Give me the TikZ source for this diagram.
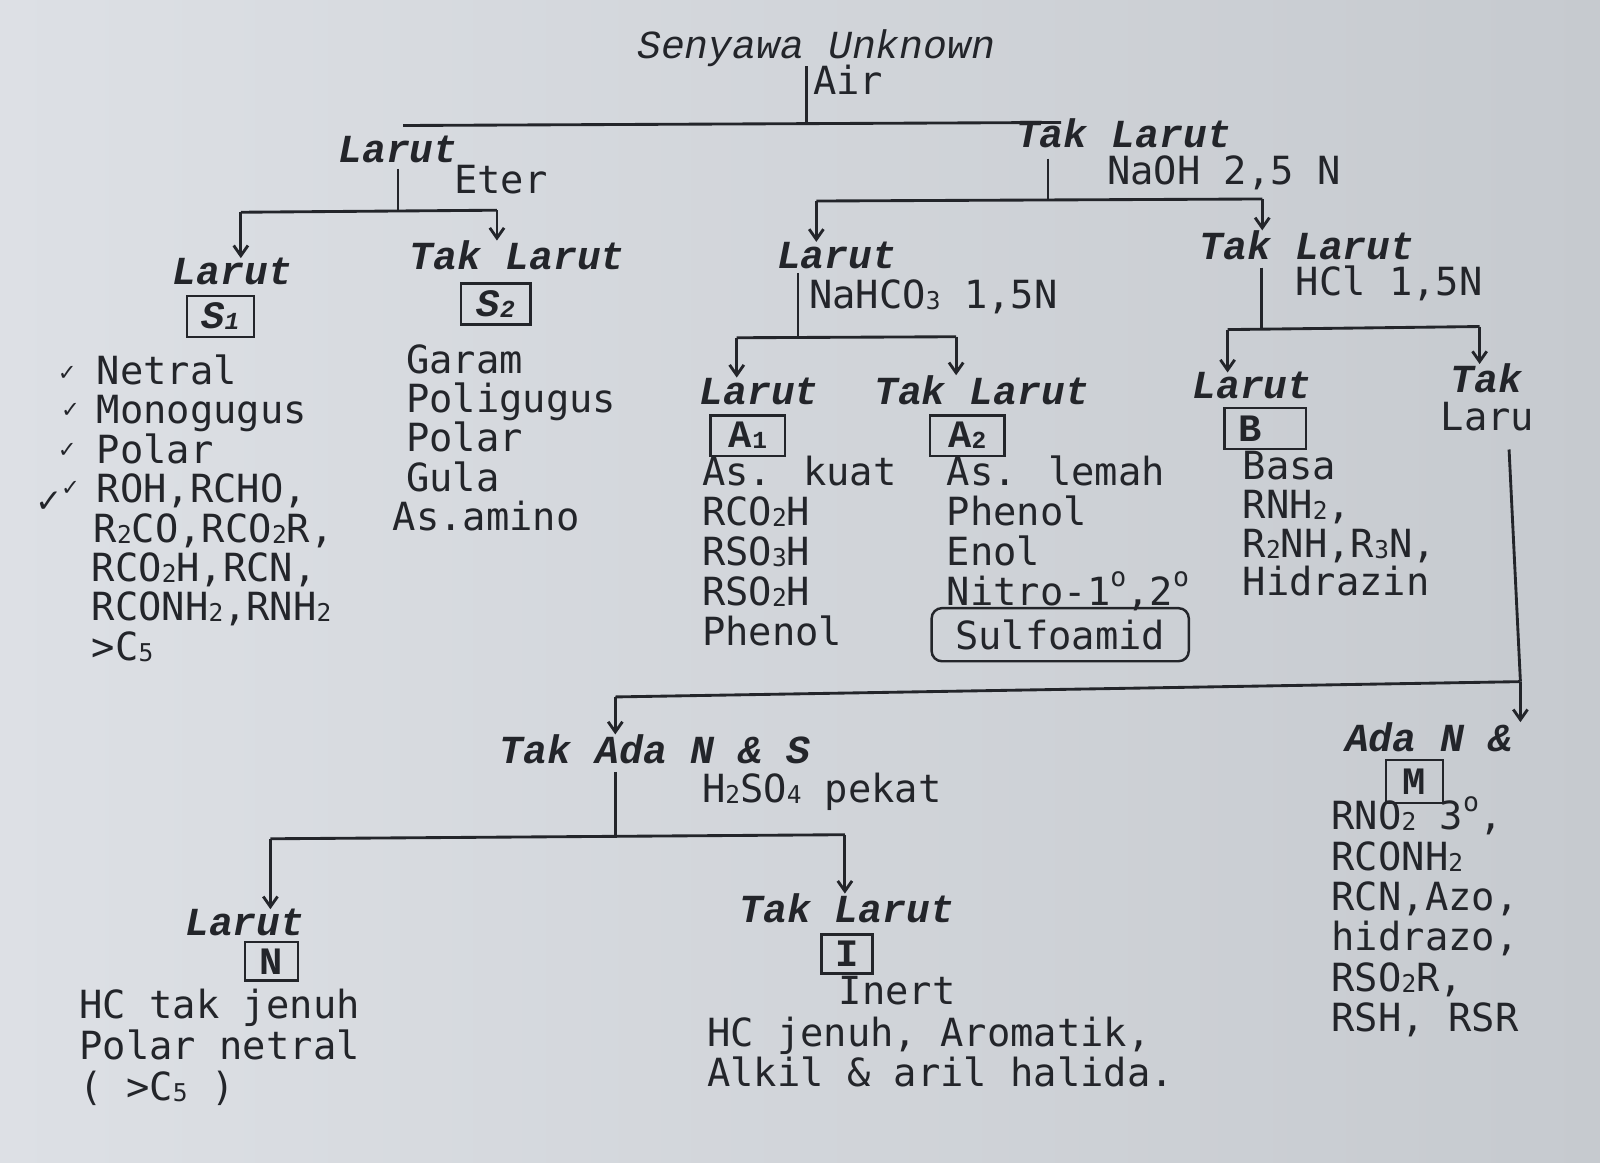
\documentclass[tikz,border=0pt]{standalone}
\usepackage{fontspec}
\usetikzlibrary{arrows.meta,calc}
\newfontfamily\headf{Liberation Mono}
\newfontfamily\bodyf{DejaVu Sans Mono}
\newfontfamily\symf{DejaVu Sans}
\newcommand\ssub[1]{\raisebox{-0.5pt}{\fontsize{12}{12}\selectfont #1}}
\newcommand\dgr{\raisebox{9pt}{\fontsize{13}{13}\selectfont o}}
\definecolor{ink}{RGB}{35,37,42}
\definecolor{paperL}{RGB}{221,224,229}
\definecolor{paperR}{RGB}{198,202,207}
\begin{document}
\begin{tikzpicture}[x=0.5pt,y=-0.5pt,
  every node/.style={inner sep=0pt, outer sep=0pt, text=ink},
  hd/.style={font=\headf\bfseries\itshape\fontsize{19.5}{19.5}\selectfont},
  bd/.style={font=\bodyf\fontsize{19}{19.3}\selectfont, align=left},
  bx/.style={draw=ink, line width=1.2pt, minimum width=#1, minimum height=20pt, font=\headf\bfseries\fontsize{19}{19}\selectfont},
  ln/.style={draw=ink, line width=1.4pt},
  ar/.style={ln, -{Straight Barb[length=5pt,width=7pt]}},
  ck/.style={font=\symf\fontsize{11}{11}\selectfont}
]
\useasboundingbox (0,0) rectangle (1568,1139);
\shade[left color=paperL, right color=paperR] (0,0) rectangle (1568,1139);

% ---------- text nodes ----------
\node[hd, font=\headf\itshape\fontsize{19.5}{19.5}\selectfont, anchor=base] (title) at (800,57) {Senyawa Unknown};
\node[bd, anchor=base west] (air) at (797,93) {Air};
\node[hd, anchor=base] (larut1) at (390,159) {Larut};
\node[bd, anchor=base west] (eter) at (445,190) {Eter};
\node[hd, anchor=base] (tak1) at (1101,145) {Tak Larut};
\node[bd, anchor=base west] (naoh) at (1085,181) {NaOH 2,5 N};

\node[hd, anchor=base] (larS1) at (228,279) {Larut};
\node[bx=33pt, font=\headf\bfseries\itshape\fontsize{19}{19}\selectfont] (s1) at (216,310) {S\ssub{1}};
\node[hd, anchor=base] (takS2) at (507,264) {Tak Larut};
\node[bx=34pt, font=\headf\bfseries\itshape\fontsize{19}{19}\selectfont] (s2) at (486,298) {S\ssub{2}};

% multi-line lists: anchor = baseline of the LAST line
\node[bd, anchor=base west] (listS1) at (95,647) {Netral\\Monogugus\\Polar\\ROH,RCHO,\\\hspace*{-1.5pt}R\ssub{2}CO,RCO\ssub{2}R,\\\hspace*{-2.5pt}RCO\ssub{2}H,RCN,\\\hspace*{-2.5pt}RCONH\ssub{2},RNH\ssub{2}\\\hspace*{-2.5pt}>C\ssub{5}};
\node[ck] (ck1) at (66,366) {✓};
\node[ck] (ck2) at (69,402) {✓};
\node[ck] (ck3) at (66,441) {✓};
\node[ck] (ck4) at (69,479) {✓};
\node[ck, font=\symf\fontsize{16}{16}\selectfont] (ck5) at (48,492) {✓};

\node[bd, anchor=base west] (listS2) at (398,520) {Garam\\Poligugus\\Polar\\Gula\\\hspace*{-6.5pt}As.amino};

\node[hd, anchor=base] (larA) at (820,263) {Larut};
\node[bd, anchor=base west] (nahco) at (793,302) {NaHCO\ssub{3} 1,5N};
\node[hd, anchor=base] (larA1) at (744,396) {Larut};
\node[hd, anchor=base] (takA2) at (962,396) {Tak Larut};
\node[bx=36.5pt] (a1) at (733,427) {A\ssub{1}};
\node[bx=36.5pt] (a2) at (948,427) {A\ssub{2}};
\node[bd, anchor=base west, font=\bodyf\fontsize{19}{19.6}\selectfont] (listA1) at (688,633) {As. kuat\\RCO\ssub{2}H\\RSO\ssub{3}H\\RSO\ssub{2}H\\Phenol};
\node[bd, anchor=base west, font=\bodyf\fontsize{19}{19.5}\selectfont] (listA2) at (928,593) {As. lemah\\Phenol\\Enol\\Nitro-1\dgr,2\dgr};
\node[bd, draw=ink, line width=1.2pt, rounded corners=5pt, minimum width=126pt, minimum height=26pt] (sulfo) at (1039,622) {Sulfoamid};

\node[hd, anchor=base] (takB) at (1281,254) {Tak Larut};
\node[bd, anchor=base west] (hcl) at (1270,290) {HCl 1,5N};
\node[hd, anchor=base] (larB) at (1227,391) {Larut};
\node[bx=40pt, text width=40pt, align=left] (b) at (1240,420) {\hspace*{7pt}B};
\node[bd, anchor=base west, font=\bodyf\fontsize{19}{19}\selectfont] (listB) at (1218,584) {Basa\\RNH\ssub{2},\\R\ssub{2}NH,R\ssub{3}N,\\Hidrazin};
\node[hd, anchor=base] (takR) at (1457,385) {Tak};
\node[bd, anchor=base west] (laru) at (1412,422) {Laru};

\node[hd, anchor=base] (takAda) at (642,748) {Tak Ada N \& S};
\node[bd, anchor=base west] (h2so4) at (688,786) {H\ssub{2}SO\ssub{4} pekat};
\node[hd, anchor=base] (adaN) at (1400,736) {Ada N \&};
\node[bx=28pt, minimum height=21pt] (m) at (1386,766) {M};
\node[bd, anchor=base west, font=\bodyf\fontsize{19}{19.8}\selectfont] (listM) at (1305,1011) {RNO\ssub{2} 3\dgr,\\RCONH\ssub{2}\\RCN,Azo,\\hidrazo,\\RSO\ssub{2}R,\\RSH, RSR};

\node[hd, anchor=base] (larN) at (240,917) {Larut};
\node[bx=26pt, minimum height=19pt] (n) at (266,942) {N};
\node[bd, anchor=base west, font=\bodyf\fontsize{19}{20}\selectfont] (listN) at (78,1078) {HC tak jenuh\\Polar netral\\( >C\ssub{5} )};
\node[hd, anchor=base] (takI) at (830,904) {Tak Larut};
\node[bx=25pt, minimum height=19pt] (i) at (830,935) {I};
\node[bd, anchor=base west] (inert) at (822,984) {Inert};
\node[bd, anchor=base west, font=\bodyf\fontsize{19}{17.5}\selectfont] (listI) at (693,1065) {HC jenuh, Aromatik,\\Alkil \& aril halida.};

% ---------- connectors ----------
\coordinate (j0) at (790,121);
\draw[ln] (j0 |- title.south) -- (j0);
\coordinate (b0L) at (395,123);
\coordinate (b0R) at (1040,120);
\draw[ln] (b0L) -- (b0R);

\coordinate (j1) at (390,207);
\draw[ln, shorten <=3pt] (j1 |- larut1.south) -- (j1);
\coordinate (j1L) at (236,208);
\coordinate (j1R) at (487,206);
\draw[ln] (j1L) -- (j1R);
\draw[ar] (j1L) -- (j1L |- larS1.north);
\draw[ar] (j1R) -- (j1R |- takS2.north);

\coordinate (j2) at (1027,196);
\draw[ln, shorten <=5pt] (j2 |- tak1.south) -- (j2);
\coordinate (j2L) at (800,197);
\coordinate (j2R) at (1237,195);
\draw[ln] (j2L) -- (j2R);
\draw[ar] (j2L) -- (j2L |- larA.north);
\draw[ar] (j2R) -- (j2R |- takB.north);

\coordinate (j3) at (782,330);
\draw[ln, shorten <=2pt] (j3 |- larA.south) -- (j3);
\coordinate (j3L) at (722,331);
\coordinate (j3R) at (937,330);
\draw[ln] (j3L) -- (j3R);
\draw[ar] (j3L) -- (j3L |- larA1.north);
\draw[ar] (j3R) -- (j3R |- takA2.north);

\coordinate (j4) at (1236,322);
\draw[ln, shorten <=4pt] (j4 |- takB.south) -- (j4);
\coordinate (j4L) at (1203,323);
\coordinate (j4R) at (1450,320);
\draw[ln] (j4L) -- (j4R);
\draw[ar] (j4L) -- (j4L |- larB.north);
\draw[ar] (j4R) -- (j4R |- takR.north);

\coordinate (j5t) at (1478,450);
\coordinate (j5) at (1490,668);
\draw[ln, shorten <=9pt] (laru.south -| j5t) -- (j5);
\draw[ar] (j5) -- (j5 |- adaN.north);
\coordinate (j5L) at (603,683);
\draw[ln] (j5) -- (j5L);
\draw[ar] (j5L) -- (j5L |- takAda.north);

\coordinate (j6) at (603,820);
\draw[ln, shorten <=4pt] (j6 |- takAda.south) -- (j6);
\coordinate (j6L) at (265,822);
\coordinate (j6R) at (828,818);
\draw[ln] (j6L) -- (j6R);
\draw[ar] (j6L) -- (j6L |- larN.north);
\draw[ar] (j6R) -- (j6R |- takI.north);
\end{tikzpicture}
\end{document}
